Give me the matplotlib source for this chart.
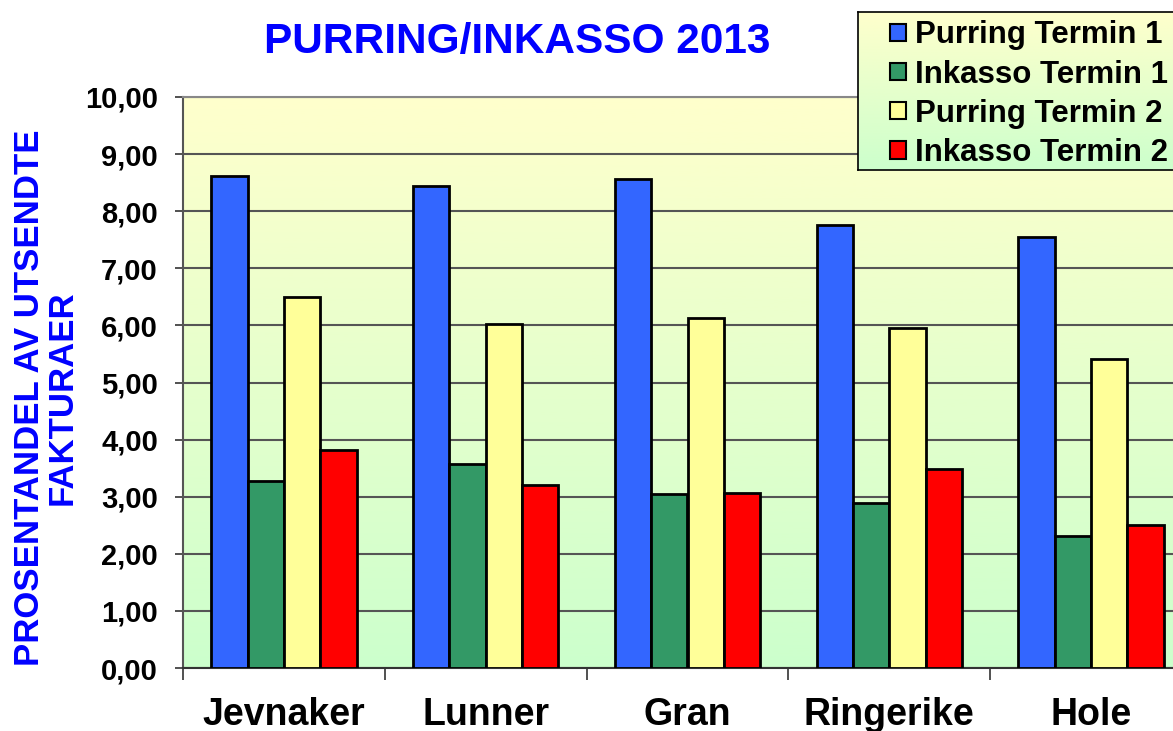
import numpy as np
import matplotlib
matplotlib.use("Agg")
import matplotlib.pyplot as plt
from matplotlib.patches import Patch
from matplotlib.colors import LinearSegmentedColormap

categories = ["Jevnaker", "Lunner", "Gran", "Ringerike", "Hole"]
series_names = ["Purring Termin 1", "Inkasso Termin 1", "Purring Termin 2", "Inkasso Termin 2"]
purring_t1 = [8.61, 8.45, 8.57, 7.76, 7.55]
inkasso_t1 = [3.28, 3.57, 3.04, 2.89, 2.31]
purring_t2 = [6.50, 6.03, 6.13, 5.95, 5.41]
inkasso_t2 = [3.82, 3.20, 3.06, 3.48, 2.50]
series_values = [purring_t1, inkasso_t1, purring_t2, inkasso_t2]
colors = ["#3366FF", "#339966", "#FFFF99", "#FF0000"]
yticks = [0, 1, 2, 3, 4, 5, 6, 7, 8, 9, 10]
ytick_labels = ["0,00", "1,00", "2,00", "3,00", "4,00", "5,00", "6,00", "7,00", "8,00", "9,00", "10,00"]

plt.rcParams['font.family'] = ['Liberation Sans', 'DejaVu Sans']
plt.rcParams['font.weight'] = 'bold'

W, H = 1173, 731
fig = plt.figure(figsize=(W / 100, H / 100), dpi=100)
fig.patch.set_facecolor('white')

ax = fig.add_axes([183 / W, 1 - 668 / H, (1192 - 183) / W, (668 - 97) / H])

grad_cmap = LinearSegmentedColormap.from_list("bg", ["#CCFFCC", "#FFFFCC"])
grad = np.linspace(0, 1, 256).reshape(-1, 1)
ax.imshow(grad, extent=[0, 1, 0, 1], transform=ax.transAxes, cmap=grad_cmap,
          aspect='auto', origin='lower', zorder=0)

n = len(categories)
x = np.arange(n)
bw = 0.18
offsets = (np.arange(4) - 1.5) * bw
for i, (vals, c) in enumerate(zip(series_values, colors)):
    ax.bar(x + offsets[i], vals, bw, color=c, edgecolor='black', linewidth=2, zorder=3)

ax.set_xlim(-0.5, n - 0.5)
ax.set_ylim(0, 10)
ax.set_yticks(yticks)
ax.set_yticklabels(ytick_labels, fontsize=21, fontweight='bold')
ax.yaxis.grid(True, color='#555555', linewidth=1.5, zorder=1)
ax.set_axisbelow(True)

ax.set_xticks(x)
ax.set_xticklabels(categories, fontsize=27, fontweight='bold')
ax.tick_params(axis='x', length=0, pad=21)
ax.set_xticks(np.arange(n + 1) - 0.5, minor=True)
ax.tick_params(axis='x', which='minor', length=8.5, width=1.2, direction='out', color='#333333')
ax.tick_params(axis='y', length=6, width=1.2, direction='out', color='#333333', pad=12)

for s in ['top', 'right']:
    ax.spines[s].set_color('#888888')
    ax.spines[s].set_linewidth(1.5)
ax.spines['left'].set_color('#555555')
ax.spines['left'].set_linewidth(1.5)
ax.spines['bottom'].set_color('#333333')
ax.spines['bottom'].set_linewidth(1.5)

fig.text(517 / W, 1 - 42 / H, "PURRING/INKASSO 2013", fontsize=30.5, fontweight='bold',
         color='#0000FF', ha='center', va='center')
fig.text(46 / W, 1 - 398 / H, "PROSENTANDEL AV UTSENDTE\nFAKTURAER", fontsize=25,
         fontweight='bold', color='#0000FF', ha='center', va='center', rotation=90,
         linespacing=1.0)

# legend background
lax = fig.add_axes([858 / W, 1 - 170 / H, (1190 - 858) / W, (170 - 12) / H], zorder=4)
lax.imshow(grad, extent=[0, 1, 0, 1], cmap=grad_cmap, aspect='auto', origin='lower')
lax.set_xlim(0, 1)
lax.set_ylim(0, 1)
lax.set_xticks([])
lax.set_yticks([])
for s in lax.spines.values():
    s.set_color('black')
    s.set_linewidth(1.2)

handles = [Patch(facecolor=c, edgecolor='black', linewidth=1.5) for c in colors]
leg = fig.legend(handles, series_names, loc='upper left', bbox_to_anchor=(890 / W, 1 - 20.5 / H),
                 frameon=False, handlelength=0.5, handleheight=0.5,
                 handletextpad=0.3, labelspacing=0.29, borderaxespad=0, borderpad=0,
                 prop={'weight': 'bold', 'size': 22.5})
leg.set_zorder(10)

fig.savefig("out.png", dpi=100)
